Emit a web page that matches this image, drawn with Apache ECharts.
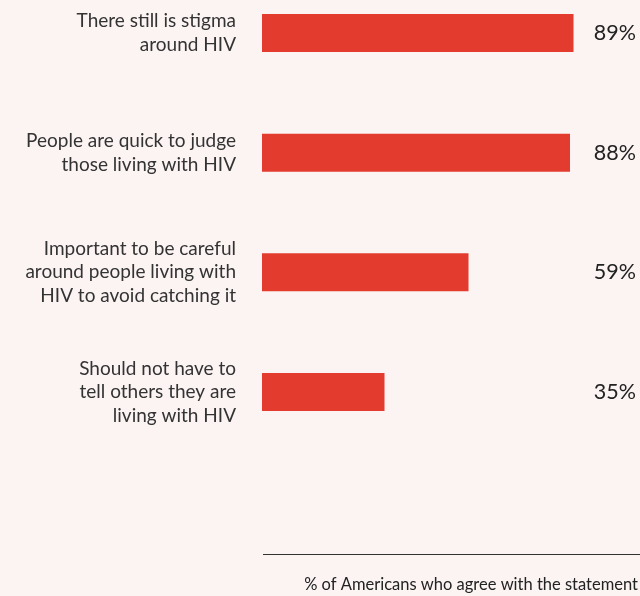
<!DOCTYPE html>
<html>
<head>
<meta charset="utf-8">
<script src="https://cdn.jsdelivr.net/npm/echarts@6/dist/echarts.min.js"></script>
<style>
html,body{margin:0;padding:0;background:#fcf3f3;}
#chart{width:640px;height:596px;}
</style>
</head>
<body>
<div id="chart"></div>
<script>
const categories = [
  "There still is stigma\naround HIV",
  "People are quick to judge\nthose living with HIV",
  "Important to be careful\naround people living with\nHIV to avoid catching it",
  "Should not have to\ntell others they are\nliving with HIV"
];
const values = [89, 88, 59, 35];
const valueLabels = ["89%", "88%", "59%", "35%"];
const caption = "% of Americans who agree with the statement";

const chart = echarts.init(document.getElementById('chart'), null, {renderer: 'canvas'});
const FONT = 'Lato';
chart.setOption({
  backgroundColor: '#fcf3f3',
  animation: false,
  title: {
    text: caption,
    right: 2,
    top: 576,
    padding: 0,
    textStyle: {fontFamily: FONT, fontSize: 16.5, fontWeight: 'normal', color: '#222'}
  },
  grid: {left: 262, right: 28, top: 33, height: 359, containLabel: false},
  xAxis: {type: 'value', min: 0, max: 100, show: false},
  yAxis: [
    {
      type: 'category', data: categories, inverse: true, boundaryGap: false,
      axisLine: {show: false}, axisTick: {show: false}, splitLine: {show: false},
      axisLabel: {margin: 26, fontFamily: FONT, fontSize: 19, lineHeight: 23.5, color: '#333', align: 'right'}
    },
    {
      type: 'category', data: valueLabels, inverse: true, boundaryGap: false, position: 'right',
      axisLine: {show: false}, axisTick: {show: false}, splitLine: {show: false},
      axisLabel: {margin: 24, align: 'right', fontFamily: FONT, fontSize: 21.5, color: '#222'}
    }
  ],
  graphic: [{
    type: 'line', shape: {x1: 263, y1: 554.5, x2: 640, y2: 554.5},
    style: {stroke: '#333', lineWidth: 1}
  }],
  series: [{
    type: 'bar', data: values, barWidth: 38, yAxisIndex: 0,
    itemStyle: {color: '#e43b2f'}
  }]
});
</script>
</body>
</html>
